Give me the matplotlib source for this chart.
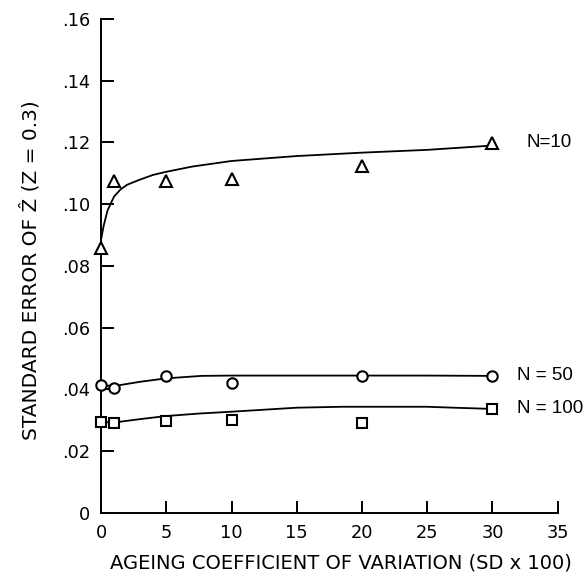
import matplotlib
matplotlib.use("Agg")
import matplotlib.pyplot as plt

# Observed points
x_obs = [0, 1, 5, 10, 20, 30]
n10_y = [0.0857, 0.1076, 0.1076, 0.1083, 0.1125, 0.1199]
n50_y = [0.0415, 0.0405, 0.0444, 0.0421, 0.0444, 0.0444]
n100_y = [0.0295, 0.0291, 0.0298, 0.0301, 0.0291, 0.0337]

# Fitted curves
n10_cx = [0, 0.2, 0.5, 1, 1.5, 2, 3, 4, 5, 7, 10, 15, 20, 25, 30]
n10_cy = [0.0885, 0.093, 0.098, 0.1025, 0.1048, 0.1063, 0.108, 0.1095, 0.1105,
          0.1122, 0.114, 0.1156, 0.1167, 0.1176, 0.119]
n50_cx = [0, 1, 3, 5, 7.7, 10, 15, 20, 25, 30]
n50_cy = [0.0414, 0.0411, 0.0425, 0.0436, 0.0444, 0.0445, 0.0445, 0.0445, 0.0445, 0.0444]
n100_cx = [0, 1, 3, 5, 7.5, 10, 15, 18.5, 22, 25, 27, 30]
n100_cy = [0.0295, 0.0293, 0.0304, 0.0314, 0.0322, 0.0328, 0.0341, 0.0344, 0.0344,
           0.0344, 0.0341, 0.0337]

series_labels = ["N=10", "N = 50", "N = 100"]

xticks = [0, 5, 10, 15, 20, 25, 30, 35]
xtick_labels = ["0", "5", "10", "15", "20", "25", "30", "35"]
yticks = [0, 0.02, 0.04, 0.06, 0.08, 0.10, 0.12, 0.14, 0.16]
ytick_labels = ["0", ".02", ".04", ".06", ".08", ".10", ".12", ".14", ".16"]

plt.rcParams['font.family'] = ['DejaVu Sans']
fig = plt.figure(figsize=(5.84, 5.74), dpi=100)
ax = fig.add_axes([0.173, 0.1063, 0.782, 0.8607])

lw = 1.3
ax.plot(n10_cx, n10_cy, color='black', lw=lw)
ax.plot(n50_cx, n50_cy, color='black', lw=lw)
ax.plot(n100_cx, n100_cy, color='black', lw=lw)

mk = dict(color='black', mfc='white', mew=1.5, ls='none', clip_on=False, zorder=3)
ax.plot(x_obs, n10_y, marker='^', ms=8.5, **mk)
ax.plot(x_obs, n50_y, marker='o', ms=7.5, **mk)
ax.plot(x_obs, n100_y, marker='s', ms=7, **mk)

lab_font = ['Liberation Sans', 'DejaVu Sans']
ax.text(32.6, n10_y[-1], series_labels[0], va='center', ha='left', fontsize=13.5, family=lab_font)
ax.text(31.85, n50_y[-1], series_labels[1], va='center', ha='left', fontsize=13.5, family=lab_font)
ax.text(31.85, n100_y[-1], series_labels[2], va='center', ha='left', fontsize=13.5, family=lab_font)

ax.set_xlim(0, 35)
ax.set_ylim(0, 0.16)
ax.set_xticks(xticks)
ax.set_xticklabels(xtick_labels)
ax.set_yticks(yticks)
ax.set_yticklabels(ytick_labels)

for s in ['top', 'right']:
    ax.spines[s].set_visible(False)
for s in ['left', 'bottom']:
    ax.spines[s].set_linewidth(1.4)

ax.tick_params(direction='in', length=9, width=1.4, labelsize=12.8, pad=8)

ax.set_xlabel("AGEING COEFFICIENT OF VARIATION (SD x 100)", fontsize=14)
ax.set_ylabel("STANDARD ERROR OF \u1E90 (Z = 0.3)", fontsize=14.5)
ax.xaxis.set_label_coords(0.525, -0.081)
ax.yaxis.set_label_coords(-0.132, 0.492)

fig.savefig("out.png", dpi=100)
